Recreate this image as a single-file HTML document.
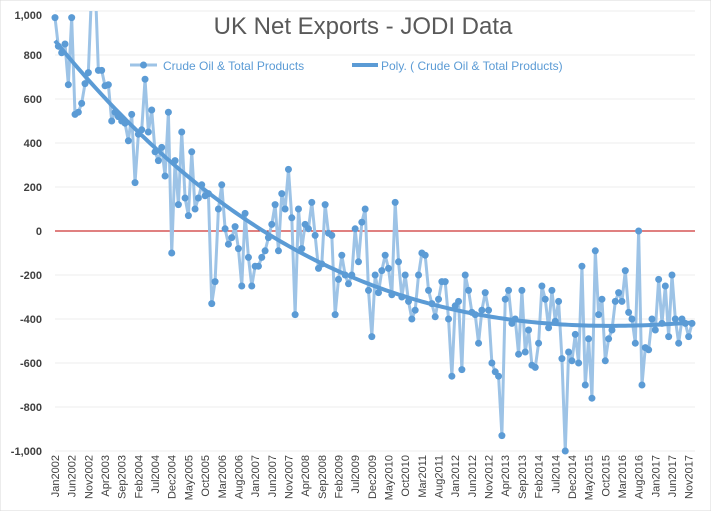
<!DOCTYPE html>
<html><head><meta charset="utf-8"><style>
body{margin:0;background:#fff;font-family:"Liberation Sans",sans-serif}
svg{display:block}
</style></head><body>
<svg id="c" width="711" height="511">
<rect x="0" y="0" width="711" height="511" fill="#fff" stroke="#d9d9d9"/>
<text x="363" y="34" text-anchor="middle" font-size="24" fill="#595959">UK Net Exports - JODI Data</text>
<g>
<g>
<line x1="130" y1="65" x2="157" y2="65" stroke="#9dc3e6" stroke-width="3"/>
<circle cx="143.5" cy="65" r="3.5" fill="#5b9bd5"/>
<text x="163" y="70" font-size="12" fill="#5b9bd5">Crude Oil &amp; Total Products</text></g>
<g>
<line x1="352" y1="65" x2="378" y2="65" stroke="#5b9bd5" stroke-width="4"/>
<text x="381" y="70" font-size="12" fill="#5b9bd5">Poly. ( Crude Oil &amp; Total Products)</text></g>
</g>
</svg>
<script>
const startYear = 2002;
const yTicks = [-1000,-800,-600,-400,-200,0,200,400,600,800,1000];
const values = [
970,840,810,850,665,970,530,540,580,670,720,1100,
1150,730,730,660,665,500,540,520,500,490,410,530,
220,440,460,690,450,550,360,320,380,250,540,-100,
320,120,450,150,70,360,100,150,210,160,170,-330,
-230,100,210,10,-60,-30,20,-80,-250,80,-120,-250,
-160,-160,-120,-90,-30,30,120,-90,170,100,280,60,
-380,100,-80,30,10,130,-20,-170,-150,120,-10,-20,
-380,-220,-110,-200,-240,-200,10,-140,40,100,-270,-480,
-200,-280,-180,-110,-170,-290,130,-140,-300,-200,-320,-400,
-360,-200,-100,-110,-270,-330,-390,-310,-230,-230,-400,-660,
-340,-320,-630,-200,-270,-370,-380,-510,-360,-280,-360,-600,
-640,-660,-930,-310,-270,-420,-400,-560,-270,-550,-450,-610,
-620,-510,-250,-310,-440,-270,-410,-320,-580,-1000,-550,-590,
-470,-600,-160,-700,-490,-760,-90,-380,-310,-590,-490,-450,
-320,-280,-320,-180,-370,-400,-510,0,-700,-530,-540,-400,
-450,-220,-420,-250,-480,-200,-400,-510,-400,-420,-480,-420];
const months = ["Jan","Feb","Mar","Apr","May","Jun","Jul","Aug","Sep","Oct","Nov","Dec"];
const NS="http://www.w3.org/2000/svg";
const svg=document.getElementById('c');
const X0=55,X1=692,Y0=11,Y1=451;
const n=values.length;
const xs=i=>X0+(X1-X0)*i/(n-1);
const ys=v=>Y1-(v+1000)/2000*(Y1-Y0);
function mk(t,a,p){const e=document.createElementNS(NS,t);for(const k in a)e.setAttribute(k,a[k]);(p||svg).appendChild(e);return e;}
const defs=mk('defs',{});const cp=mk('clipPath',{id:'pc'},defs);mk('rect',{x:0,y:Y0,width:711,height:Y1-Y0+6},cp);
yTicks.forEach(t=>{
 if(t!==0){const g=mk('line',{x1:X0,x2:X1+3,y1:ys(t),y2:ys(t),stroke:'#ececec','stroke-width':1});
 
 }
 const ly=Math.max(ys(t)+4,19);
 const l=mk('text',{x:42,y:ly,'text-anchor':'end','font-size':11,'font-weight':'bold',fill:'#404040'});
 l.textContent=t.toLocaleString('en-US');
 
 
});
const z=mk('line',{x1:X0,x2:X1+3,y1:ys(0),y2:ys(0),stroke:'#c00000','stroke-width':1});


for(let i=0;i<n;i+=5){
 const yr=startYear+Math.floor(i/12),m=months[i%12];
 const tx=mk('text',{transform:`translate(${xs(i)+4},455) rotate(-90)`,'text-anchor':'end','font-size':11,fill:'#404040'});
 tx.textContent=m+yr;
 
 
}
const g=mk('g',{'clip-path':'url(#pc)'});


mk('polyline',{points:values.map((v,i)=>xs(i)+','+ys(v)).join(' '),fill:'none',stroke:'#9dc3e6','stroke-width':3,'stroke-linejoin':'round'},g);
values.forEach((v,i)=>{const c=mk('circle',{cx:xs(i),cy:ys(v),r:3.5,fill:'#5b9bd5'},g);
 
 });
const deg=3,N=deg+1;const A=[...Array(N)].map(()=>Array(N+1).fill(0));
values.forEach((v,i)=>{const t=i/(n-1);for(let r=0;r<N;r++){for(let c=0;c<N;c++)A[r][c]+=Math.pow(t,r+c);A[r][N]+=v*Math.pow(t,r);}});
for(let k=0;k<N;k++){let p=k;for(let r=k+1;r<N;r++)if(Math.abs(A[r][k])>Math.abs(A[p][k]))p=r;[A[k],A[p]]=[A[p],A[k]];
 for(let r=0;r<N;r++)if(r!==k){const f=A[r][k]/A[k][k];for(let c=k;c<=N;c++)A[r][c]-=f*A[k][c];}}
const co=A.map((r,k)=>r[N]/r[k]);
const tp=[];for(let i=0;i<n;i++){const t=i/(n-1);let v=0;for(let k=0;k<N;k++)v+=co[k]*Math.pow(t,k);tp.push(xs(i)+','+ys(v));}
const tr=mk('polyline',{points:tp.join(' '),fill:'none',stroke:'#5b9bd5','stroke-width':4,'stroke-linejoin':'round'});


</script>
</body></html>
